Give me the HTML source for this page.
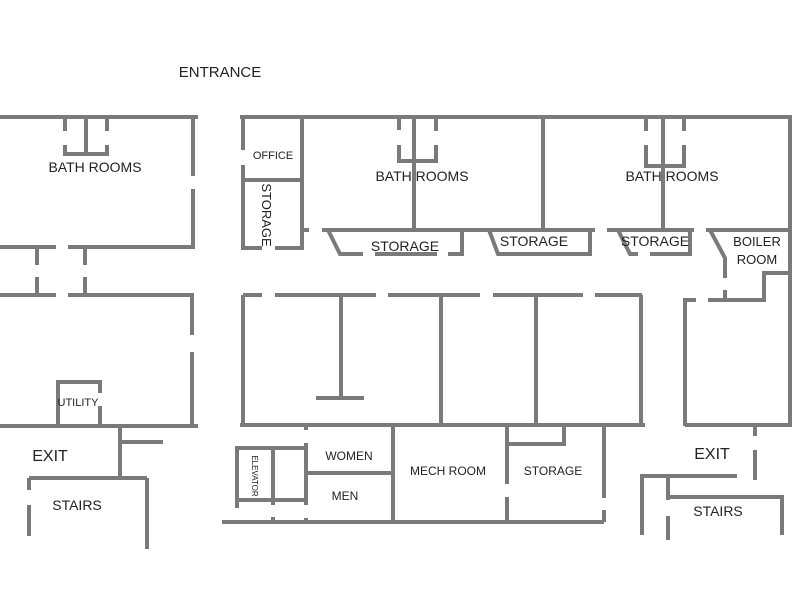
<!DOCTYPE html>
<html><head><style>html,body{margin:0;padding:0;background:#fff}svg{display:block}</style></head><body>
<svg width="800" height="600" viewBox="0 0 800 600" xmlns="http://www.w3.org/2000/svg">
<g stroke="#7a7a7a" stroke-width="4" fill="none" stroke-linecap="butt">
<!-- top-left building -->
<path d="M0 117H198M193 117V176M193 189V247M0 247H56M68 247H195"/>
<path d="M65 117V131M65 145V154H107V145M107 131V117M86 117V154"/>
<path d="M37 247V265M37 277V295M85 247V265M85 277V295"/>
<path d="M0 295H56M68 295H194M192 295V335M192 352V428M0 426H198"/>
<path d="M58 426V382H100V393M100 406V426"/>
<!-- center/right top -->
<path d="M240 117H792M243 117V150M243 165V250M302 117V250M245 180H302M243 248H262M275 248H304M302 230H309"/>
<path d="M322 230H595M607 230H694M706 230H792M790 115V427"/>
<path d="M328 230L340 254H363M375 254H437M448 254H462V230"/>
<path d="M489 230L498 254H590V230"/>
<path d="M618 230L630 254H638M650 254H690V230"/>
<path d="M710 230L725 258V278M725 290V300H708M720 300H764V273H792M683 300H696"/>
<path d="M414 117V230M399 117V130M399 145V161H436V145M436 131V117"/>
<path d="M543 117V230"/>
<path d="M646 117V131M646 145V166H684V145M684 131V117M663 117V230"/>
<!-- lower center -->
<path d="M243 295H262M275 295H376M388 295H480M493 295H583M595 295H642"/>
<path d="M243 295V426M341 295V398M316 398H364M441 295V426M536 295V426M641 295V426M685 300V426"/>
<path d="M240 425H645M685 425H792"/>
<!-- bottom left -->
<path d="M120 426V478M120 442H163M29 478H147M29 478V490M29 505V536M147 478V549"/>
<!-- bottom center -->
<path d="M237 508V448H306M237 500H306M273 448V505M273 517V522M306 426V430M306 443V505M306 518V522"/>
<path d="M222 522H604M393 426V522M306 473H393M507 426V484M507 497V522M564 426V444H507M604 426V498M604 510V522"/>
<!-- bottom right -->
<path d="M755 426V436M755 450V480M640 476H737M642 476V535M668 476V500M668 516V540M668 497H782V535"/>
</g>
<g font-family="Liberation Sans, sans-serif" fill="#222" text-anchor="middle">
<text x="220" y="77" font-size="15">ENTRANCE</text>
<text x="95" y="172" font-size="14">BATH ROOMS</text>
<text x="422" y="181" font-size="14">BATH ROOMS</text>
<text x="672" y="181" font-size="14">BATH ROOMS</text>
<text x="273" y="159" font-size="11">OFFICE</text>
<text transform="translate(262,215) rotate(90)" font-size="13">STORAGE</text>
<text x="405" y="251" font-size="14">STORAGE</text>
<text x="534" y="246" font-size="14">STORAGE</text>
<text x="655" y="246" font-size="14">STORAGE</text>
<text x="757" y="246" font-size="13">BOILER</text>
<text x="757" y="264" font-size="13">ROOM</text>
<text x="78" y="406" font-size="11">UTILITY</text>
<text x="50" y="461" font-size="16">EXIT</text>
<text x="712" y="459" font-size="16">EXIT</text>
<text x="77" y="510" font-size="14">STAIRS</text>
<text x="718" y="516" font-size="14">STAIRS</text>
<text transform="translate(252,476) rotate(90)" font-size="8">ELEVATOR</text>
<text x="349" y="460" font-size="12">WOMEN</text>
<text x="345" y="500" font-size="12">MEN</text>
<text x="448" y="475" font-size="12">MECH ROOM</text>
<text x="553" y="475" font-size="12">STORAGE</text>
</g>
</svg>
</body></html>
